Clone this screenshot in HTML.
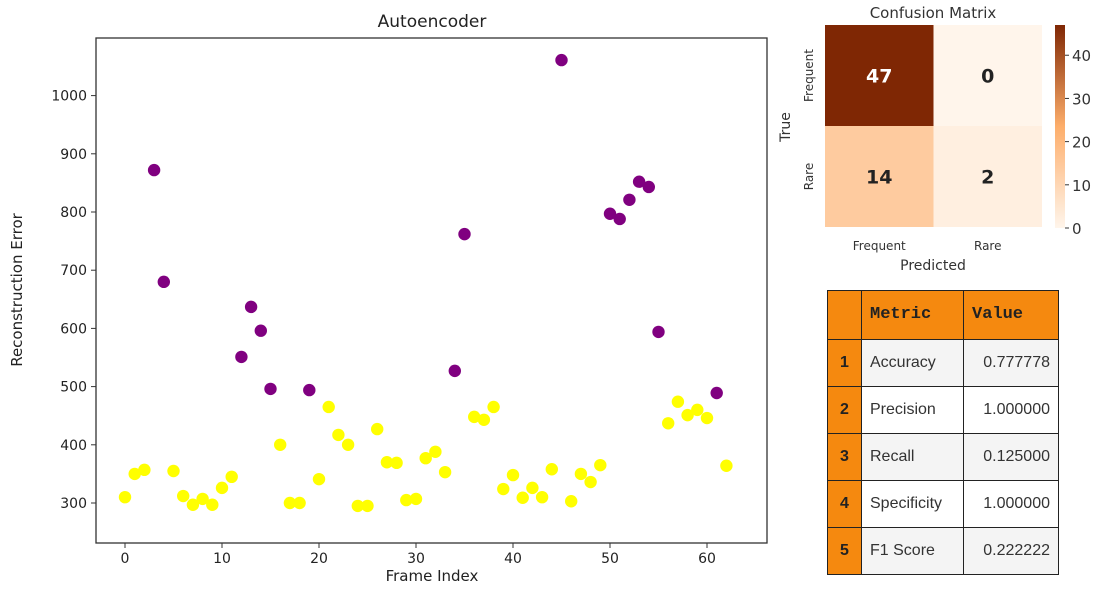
<!DOCTYPE html>
<html><head><meta charset="utf-8"><style>
body{margin:0;background:#fff;width:1103px;height:591px;overflow:hidden;font-family:"DejaVu Sans","Liberation Sans",sans-serif}
svg{position:absolute;left:0;top:0}
table{position:absolute;left:827px;top:290px;border-collapse:collapse;font-family:"Liberation Sans",sans-serif;font-size:16px;color:#333}
td{border:1.5px solid #222;height:46.2px;padding:0 8px}
tr:first-child td{height:47.5px}
.h{background:#f5890f;font-family:"Liberation Mono",monospace;font-weight:bold;font-size:17px;color:#222}
.i{background:#f5890f;font-weight:bold;width:17px;text-align:center;color:#222}
.c1{width:85px}.c2{width:78px;text-align:right}
tr:nth-child(even) td.g{background:#f4f4f4}
</style></head><body>
<svg width="1103" height="591">
<g id="scatter"></g>
<g id="cm"></g>
</svg>
<table>
<tr><td class="h"></td><td class="h c1">Metric</td><td class="h c2" style="text-align:left">Value</td></tr>
<tr><td class="i">1</td><td class="g">Accuracy</td><td class="g c2">0.777778</td></tr>
<tr><td class="i">2</td><td class="g">Precision</td><td class="g c2">1.000000</td></tr>
<tr><td class="i">3</td><td class="g">Recall</td><td class="g c2">0.125000</td></tr>
<tr><td class="i">4</td><td class="g">Specificity</td><td class="g c2">1.000000</td></tr>
<tr><td class="i">5</td><td class="g">F1 Score</td><td class="g c2">0.222222</td></tr>
</table>
<script>
const errors=[310,350,357,872,680,355,312,297,307,297,326,345,551,637,596,496,400,300,300,494,341,465,417,400,295,295,427,370,369,305,307,377,388,353,527,762,448,443,465,324,348,309,326,310,358,1061,303,350,336,365,797,788,821,852,843,594,437,474,451,460,446,489,364];
const isRare=[0,0,0,1,1,0,0,0,0,0,0,0,1,1,1,1,0,0,0,1,0,0,0,0,0,0,0,0,0,0,0,0,0,0,1,1,0,0,0,0,0,0,0,0,0,1,0,0,0,0,1,1,1,1,1,1,0,0,0,0,0,1,0];
const xTicks=[0,10,20,30,40,50,60];
const yTicks=[300,400,500,600,700,800,900,1000];
const cmValues=[[47,0],[14,2]];
const cmLabels=["Frequent","Rare"];
const cbTicks=[0,10,20,30,40];
const NS="http://www.w3.org/2000/svg";
function mk(p,t,a,txt){const e=document.createElementNS(NS,t);for(const k in a)e.setAttribute(k,a[k]);if(txt!==undefined)e.textContent=txt;p.appendChild(e);return e;}
const L=96,R=767,T=38,B=543;
const xs=v=>125+v*9.7, ys=v=>503-(v-300)*0.582;
const g=document.getElementById('scatter');
errors.forEach((v,i)=>{const c=mk(g,'circle',{cx:xs(i),cy:ys(v),r:6.2,fill:isRare[i]?'#800080':'#ffff00'});

});
mk(g,'rect',{x:L,y:T,width:R-L,height:B-T,fill:'none',stroke:'#333','stroke-width':1.3});
xTicks.forEach(t=>{mk(g,'line',{x1:xs(t),x2:xs(t),y1:B,y2:B+5,stroke:'#333'});
const e=mk(g,'text',{x:xs(t),y:B+20,'text-anchor':'middle','font-size':14,fill:'#222'},t);

});
yTicks.forEach(t=>{mk(g,'line',{x1:L-5,x2:L,y1:ys(t),y2:ys(t),stroke:'#333'});
const e=mk(g,'text',{x:L-9,y:ys(t)+5,'text-anchor':'end','font-size':14,fill:'#222'},t);

});
let e=mk(g,'text',{x:432,y:27,'text-anchor':'middle','font-size':17,fill:'#222'},'Autoencoder');

e=mk(g,'text',{x:432,y:581,'text-anchor':'middle','font-size':15,fill:'#222'},'Frame Index');

e=mk(g,'text',{x:22,y:290,'text-anchor':'middle','font-size':15,fill:'#222',transform:'rotate(-90 22 290)'},'Reconstruction Error');

const cm=document.getElementById('cm');
const cx0=825,cy0=25,cw=108.5,ch=101;
function color(v){const t=v/47;const a=[255,245,235],b=[127,39,4],m=[253,174,107];
let c;if(t<0.5){const s=t/0.5;c=a.map((x,i)=>x+(m[i]-x)*s);}else{const s=(t-0.5)/0.5;c=m.map((x,i)=>x+(b[i]-x)*s);}
return 'rgb('+c.map(Math.round).join(',')+')';}
cmValues.forEach((row,r)=>row.forEach((v,c)=>{
const rc=mk(cm,'rect',{x:cx0+c*cw,y:cy0+r*ch,width:cw,height:ch,fill:color(v)});


mk(cm,'text',{x:cx0+c*cw+cw/2,y:cy0+r*ch+ch/2+7,'text-anchor':'middle','font-size':19,'font-weight':'bold',fill:v>30?'#fff':'#222'},v);
}));
cmLabels.forEach((l,i)=>{
mk(cm,'text',{x:cx0+i*cw+cw/2,y:250,'text-anchor':'middle','font-size':12,fill:'#333'},l);
const y=cy0+i*ch+ch/2;
mk(cm,'text',{x:813,y:y,'text-anchor':'middle','font-size':12,fill:'#333',transform:'rotate(-90 813 '+y+')'},l);});
mk(cm,'text',{x:933,y:270,'text-anchor':'middle','font-size':14,fill:'#333'},'Predicted');
mk(cm,'text',{x:790,y:127,'text-anchor':'middle','font-size':14,fill:'#333',transform:'rotate(-90 790 127)'},'True');
mk(cm,'text',{x:933,y:18,'text-anchor':'middle','font-size':15,fill:'#333'},'Confusion Matrix');
const defs=mk(cm,'defs',{});const lg=mk(defs,'linearGradient',{id:'cb',x1:0,y1:1,x2:0,y2:0});
[0,0.15,0.3,0.5,0.7,0.85,1].forEach(s=>mk(lg,'stop',{offset:s,'stop-color':color(s*47)}));
const cbT=25,cbB=228,cbv=v=>cbB-(v/47)*(cbB-cbT);
const cb=mk(cm,'rect',{x:1055,y:cbT,width:10,height:cbB-cbT,fill:'url(#cb)'});

cbTicks.forEach(t=>{mk(cm,'line',{x1:1065,x2:1069,y1:cbv(t),y2:cbv(t),stroke:'#333'});
mk(cm,'text',{x:1072,y:cbv(t)+6,'font-size':15,fill:'#333'},t);});
</script>
</body></html>
